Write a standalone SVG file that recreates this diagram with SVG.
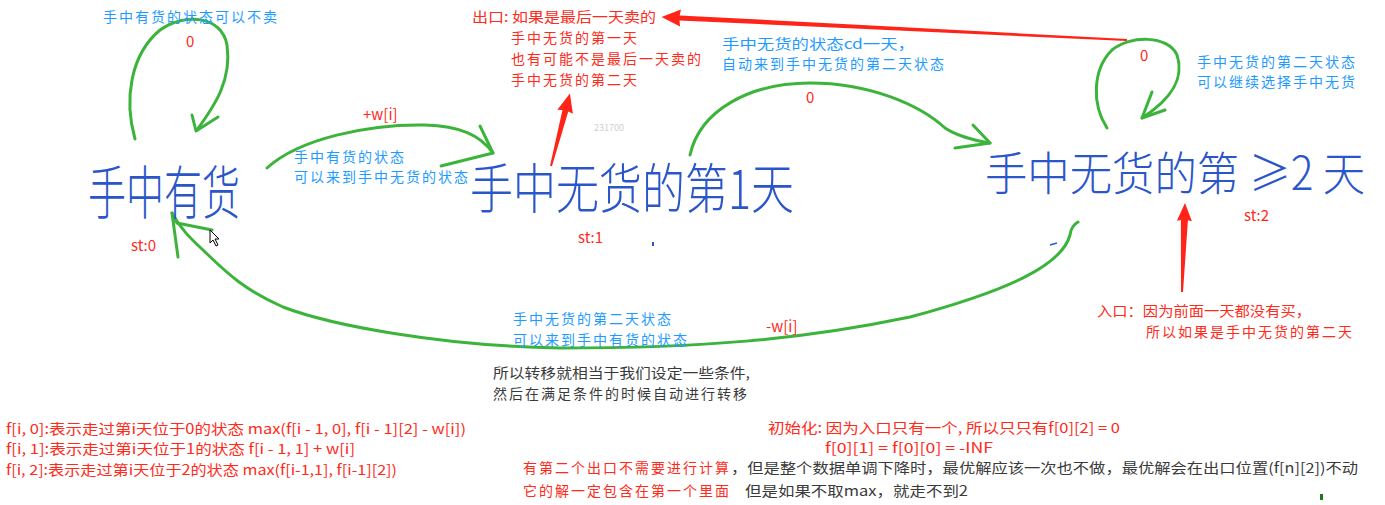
<svg xmlns="http://www.w3.org/2000/svg" width="1385" height="505" viewBox="0 0 1385 505">
<style>
text{font-family:"Noto Sans CJK SC","Noto Sans",sans-serif;font-size:14px}
.cj{letter-spacing:2px}
.blue{fill:#1e9bff}
.red{fill:#ff2a1a}
.dark{fill:#3a3a3a}
.hand{fill:#2b56c9;font-weight:300}
.g{fill:none;stroke:#3cb43c;stroke-width:3;stroke-linecap:round;stroke-linejoin:round}
.ra{fill:#ff2318}
</style>
<rect width="1385" height="505" fill="#ffffff"/>

<g id="connectors">
  <!-- self loop holding -->
  <path class="g" d="M135,139 C124,100 130,55 160,30 C185,12 222,16 227,45 C232,80 215,105 197,130"/>
  <path class="g" d="M192,115 L196,131 L218,117"/>
  <!-- holding -> day1 -->
  <path class="g" d="M267,168 C300,138 370,124 425,125 C460,126 480,135 493,153"/>
  <path class="g" d="M480,126 L493,153 L441,166"/>
  <!-- day1 -> day2 -->
  <path class="g" d="M690,155 C700,110 750,83 810,83 C870,83 920,105 945,128 Q960,138 990,143"/>
  <path class="g" d="M973,125 L990,143 L955,148"/>
  <!-- self loop day2 -->
  <path class="g" d="M1107,128 C1092,105 1092,70 1112,50 C1130,35 1168,35 1177,55 C1185,80 1170,100 1142,118"/>
  <path class="g" d="M1152,92 L1142,118 L1165,110"/>
  <!-- day2 -> holding -->
  <path class="g" d="M1078,222 Q1071,226 1070,235 C1062,265 1010,290 910,317 C800,340 700,348 560,348 C440,346 330,325 283,307 C240,288 222,268 203,250 C190,238 180,228 172,213"/>
  <path class="g" d="M178,257 L172,213 M172,213 L177,223 L212,230"/>
  <!-- red arrows -->
  <polygon class="ra" transform="translate(1127,40) rotate(-177.17)" points="0,-1 448,-2.5 447,-8.5 466,0 447,8.5 448,2.5 0,1"/>
  <polygon class="ra" transform="translate(551,166) rotate(-75.4)" points="0,-1 57,-3 56,-8 75,0 56,8 57,3 0,1"/>
  <polygon class="ra" transform="translate(1182,292) rotate(-88.07)" points="0,-1 72,-3.5 71,-7.5 89,0 71,7.5 72,3.5 0,1"/>
</g>

<g id="node-holding">
  <text class="hand" transform="translate(88,214) scale(0.655,1)" x="0" y="0" style="font-size:58px" textLength="232" lengthAdjust="spacingAndGlyphs">手中有货</text>
  <text class="red" x="131" y="251" style="font-size:15px">st:0</text>
</g>
<g id="node-day1">
  <text class="hand" transform="translate(470,209) scale(0.8,1)" x="0" y="0" style="font-size:54px" textLength="405" lengthAdjust="spacingAndGlyphs">手中无货的第1天</text>
  <text class="red" x="578" y="243" style="font-size:15px">st:1</text>
</g>
<g id="node-day2">
  <text class="hand" transform="translate(985,190) scale(0.88,1)" x="0" y="0" style="font-size:46px" textLength="432" lengthAdjust="spacingAndGlyphs">手中无货的第 ≥2 天</text>
  <text class="red" x="1244" y="221" style="font-size:15px">st:2</text>
</g>

<g id="labels">
  <text class="blue cj" x="103" y="22">手中有货的状态可以不卖</text>
  <text class="red" x="186" y="47" style="font-size:15px">0</text>
  <text class="red" x="363" y="120" style="font-size:15px">+w[i]</text>
  <text class="blue cj" x="294" y="162">手中有货的状态</text>
  <text class="blue cj" x="294" y="182">可以来到手中无货的状态</text>

  <text class="red" x="472" y="22" textLength="184" lengthAdjust="spacingAndGlyphs">出口: 如果是最后一天卖的</text>
  <text class="red cj" x="511" y="43">手中无货的第一天</text>
  <text class="red cj" x="511" y="64">也有可能不是最后一天卖的</text>
  <text class="red cj" x="511" y="85">手中无货的第二天</text>
  <text x="594" y="131" style="font-size:9px;fill:#cfcfcf">231700</text>

  <text class="blue" x="722" y="49" textLength="193" lengthAdjust="spacingAndGlyphs">手中无货的状态cd一天，</text>
  <text class="blue cj" x="722" y="69">自动来到手中无货的第二天状态</text>
  <text class="red" x="806" y="103" style="font-size:15px">0</text>

  <text class="red" x="1140" y="61" style="font-size:15px">0</text>
  <text class="blue cj" x="1197" y="67">手中无货的第二天状态</text>
  <text class="blue cj" x="1197" y="87">可以继续选择手中无货</text>

  <text class="blue cj" x="513" y="324">手中无货的第二天状态</text>
  <text class="blue cj" x="513" y="345">可以来到手中有货的状态</text>
  <text class="red" x="766" y="332" style="font-size:15px">-w[i]</text>

  <text class="red" x="1097" y="316" textLength="214" lengthAdjust="spacingAndGlyphs">入口：因为前面一天都没有买，</text>
  <text class="red cj" x="1146" y="337">所以如果是手中无货的第二天</text>

  <text class="dark" x="493" y="378" textLength="257" lengthAdjust="spacingAndGlyphs">所以转移就相当于我们设定一些条件,</text>
  <text class="dark cj" x="493" y="399">然后在满足条件的时候自动进行转移</text>

  <text class="red" x="6" y="434" textLength="460" lengthAdjust="spacingAndGlyphs">f[i, 0]:表示走过第i天位于0的状态 max(f[i - 1, 0], f[i - 1][2] - w[i])</text>
  <text class="red" x="6" y="454" textLength="349" lengthAdjust="spacingAndGlyphs">f[i, 1]:表示走过第i天位于1的状态 f[i - 1, 1] + w[i]</text>
  <text class="red" x="6" y="475" textLength="391" lengthAdjust="spacingAndGlyphs">f[i, 2]:表示走过第i天位于2的状态 max(f[i-1,1], f[i-1][2])</text>

  <text class="red" x="768" y="433" textLength="352" lengthAdjust="spacingAndGlyphs">初始化: 因为入口只有一个, 所以只只有f[0][2] = 0</text>
  <text class="red" x="825" y="453" textLength="168" lengthAdjust="spacingAndGlyphs">f[0][1] = f[0][0] = -INF</text>

  <text class="red cj" x="523" y="473">有第二个出口不需要进行计算</text>
  <text class="dark" x="731" y="473" textLength="627" lengthAdjust="spacingAndGlyphs">，但是整个数据单调下降时，最优解应该一次也不做，最优解会在出口位置(f[n][2])不动</text>
  <text class="red cj" x="523" y="496">它的解一定包含在第一个里面</text>
  <text class="dark" x="745" y="496" textLength="223" lengthAdjust="spacingAndGlyphs">但是如果不取max，就走不到2</text>
</g>

<g id="marks">
  <path d="M1050,245 L1057,243" stroke="#2b56c9" stroke-width="1.5" fill="none"/>
  <rect x="652" y="242" width="2" height="4" fill="#2b56c9"/>
  <rect x="1320" y="494" width="3" height="6" fill="#1a7a1a"/>
  <polygon points="210,230 210,243 213,240 216,246 218,245 215,239 219,239" fill="#ffffff" stroke="#000000" stroke-width="1"/>
</g>
</svg>
